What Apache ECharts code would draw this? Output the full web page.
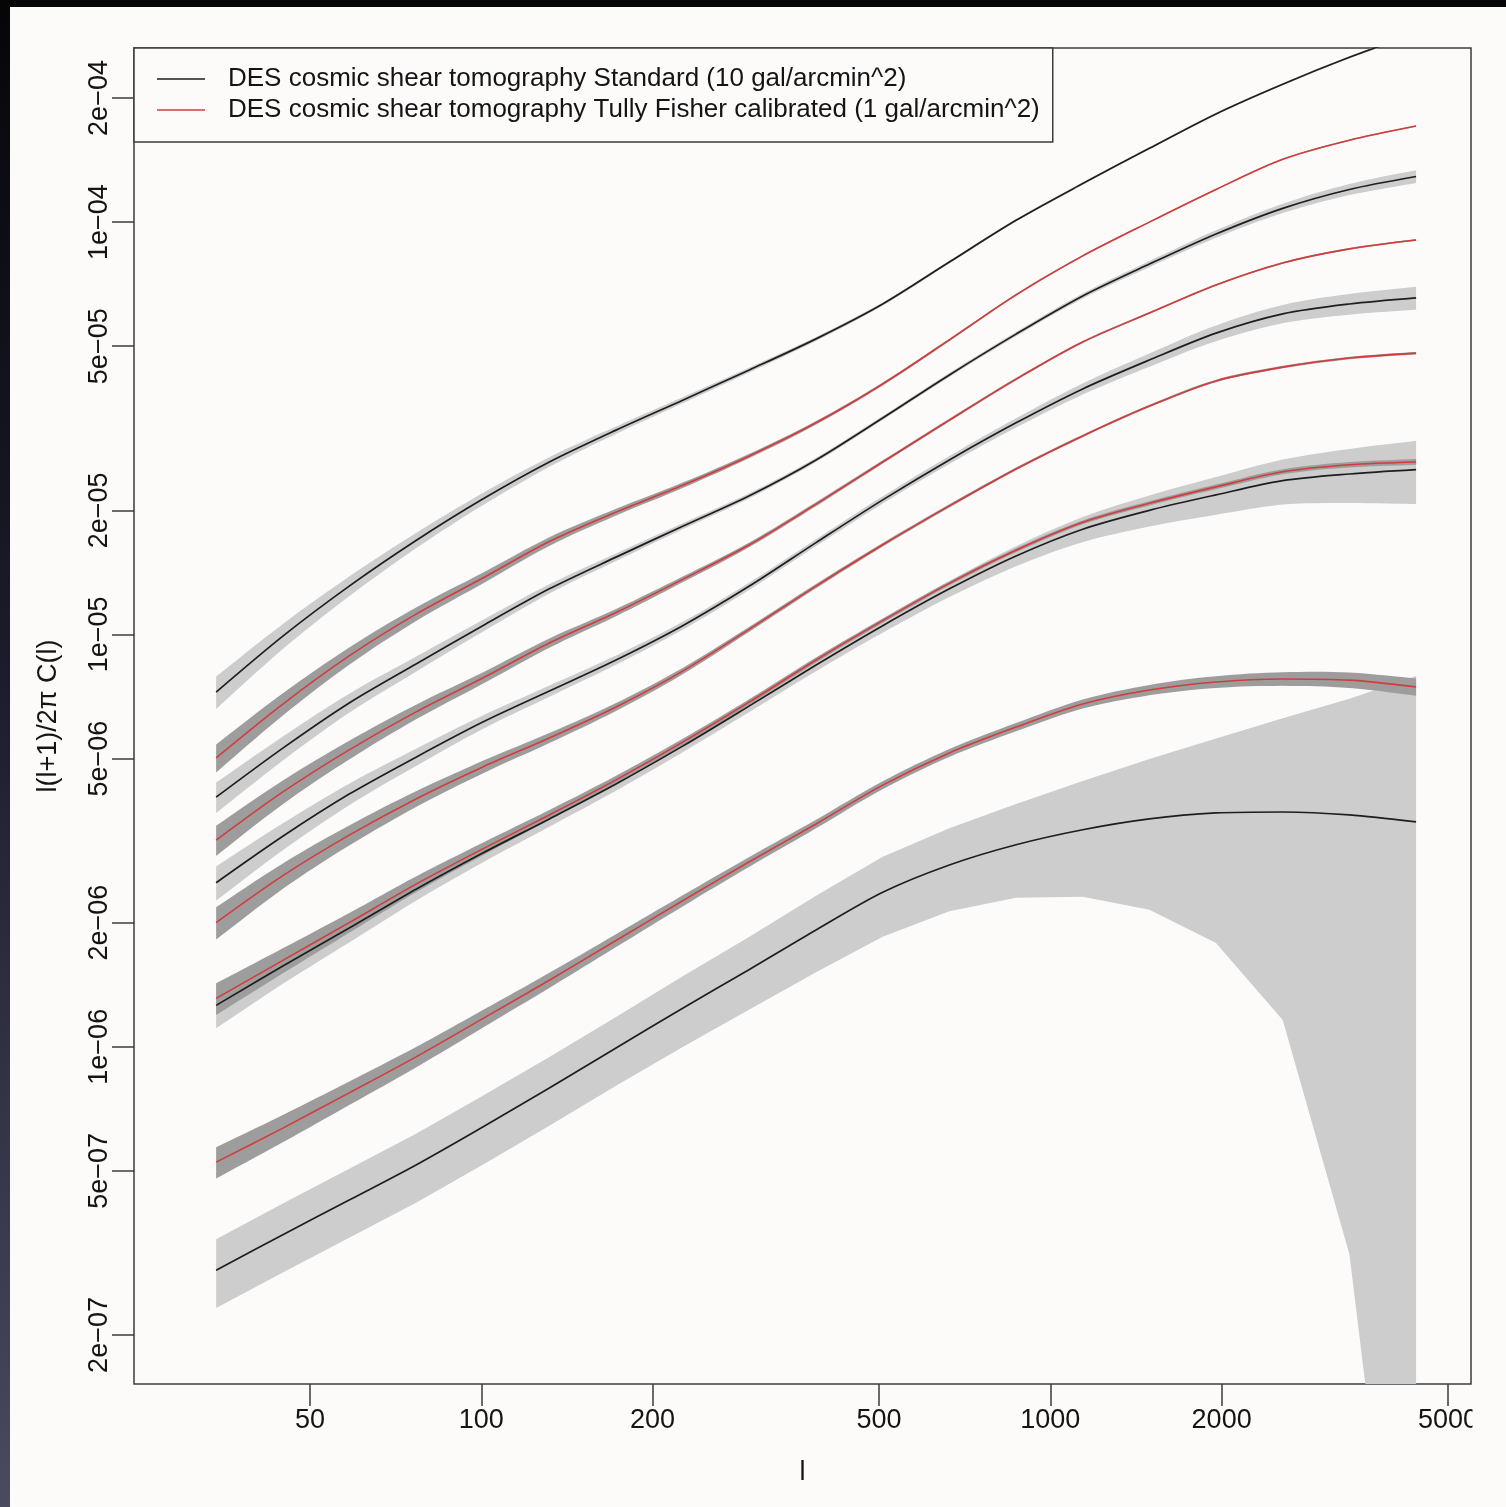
<!DOCTYPE html>
<html>
<head>
<meta charset="utf-8">
<title>DES cosmic shear tomography</title>
<script src="https://cdn.jsdelivr.net/npm/echarts@6/dist/echarts.min.js"></script>
<style>
  html, body { margin: 0; padding: 0; background: #fdfbfa; }
  #chart { width: 1506px; height: 1507px; }
</style>
</head>
<body>
<div id="chart"></div>
<script>
// Multipole bins (log-spaced)
const ell = [34.2, 44.8, 58.6, 76.8, 100.6, 131.7, 172.5, 225.9, 295.9, 387.5, 507.5, 664.6, 870.4, 1140, 1493, 1955, 2561, 3354, 4393];

// l(l+1)C(l)/2pi, Standard (10 gal/arcmin^2), one array per tomographic bin
const std1 = [7.25e-6, 9.91e-6, 1.31e-5, 1.69e-5, 2.13e-5, 2.62e-5, 3.13e-5, 3.70e-5, 4.38e-5, 5.21e-5, 6.33e-5, 8.00e-5, 1.01e-4, 1.24e-4, 1.51e-4, 1.83e-4, 2.16e-4, 2.51e-4, 2.87e-4];
const std2 = [4.03e-6, 5.30e-6, 6.82e-6, 8.48e-6, 1.05e-5, 1.29e-5, 1.54e-5, 1.83e-5, 2.17e-5, 2.65e-5, 3.35e-5, 4.26e-5, 5.35e-5, 6.62e-5, 7.91e-5, 9.36e-5, 1.08e-4, 1.20e-4, 1.29e-4];
const std3 = [2.50e-6, 3.24e-6, 4.10e-6, 5.04e-6, 6.13e-6, 7.29e-6, 8.67e-6, 1.05e-5, 1.31e-5, 1.67e-5, 2.12e-5, 2.65e-5, 3.26e-5, 3.94e-5, 4.63e-5, 5.38e-5, 5.99e-5, 6.33e-5, 6.55e-5];
const std4 = [1.26e-6, 1.57e-6, 1.94e-6, 2.41e-6, 2.95e-6, 3.57e-6, 4.34e-6, 5.36e-6, 6.71e-6, 8.43e-6, 1.05e-5, 1.29e-5, 1.55e-5, 1.80e-5, 2.00e-5, 2.18e-5, 2.36e-5, 2.45e-5, 2.51e-5];
const std5 = [2.87e-7, 3.50e-7, 4.25e-7, 5.17e-7, 6.39e-7, 7.94e-7, 9.93e-7, 1.24e-6, 1.54e-6, 1.92e-6, 2.37e-6, 2.76e-6, 3.09e-6, 3.36e-6, 3.57e-6, 3.69e-6, 3.71e-6, 3.65e-6, 3.51e-6];

// l(l+1)C(l)/2pi, Tully Fisher calibrated (1 gal/arcmin^2)
const tf1 = [5.02e-6, 6.78e-6, 8.87e-6, 1.12e-5, 1.37e-5, 1.68e-5, 1.98e-5, 2.30e-5, 2.71e-5, 3.26e-5, 4.05e-5, 5.18e-5, 6.66e-5, 8.28e-5, 1.00e-4, 1.20e-4, 1.42e-4, 1.58e-4, 1.71e-4];
const tf2 = [3.17e-6, 4.15e-6, 5.25e-6, 6.49e-6, 7.84e-6, 9.53e-6, 1.13e-5, 1.36e-5, 1.65e-5, 2.07e-5, 2.62e-5, 3.31e-5, 4.16e-5, 5.12e-5, 6.02e-5, 7.04e-5, 7.96e-5, 8.61e-5, 9.05e-5];
const tf3 = [2.00e-6, 2.60e-6, 3.26e-6, 3.99e-6, 4.77e-6, 5.61e-6, 6.67e-6, 8.15e-6, 1.03e-5, 1.31e-5, 1.65e-5, 2.05e-5, 2.52e-5, 3.03e-5, 3.58e-5, 4.12e-5, 4.45e-5, 4.68e-5, 4.81e-5];
const tf4 = [1.31e-6, 1.62e-6, 2.00e-6, 2.48e-6, 3.02e-6, 3.65e-6, 4.44e-6, 5.48e-6, 6.86e-6, 8.67e-6, 1.08e-5, 1.33e-5, 1.60e-5, 1.87e-5, 2.08e-5, 2.28e-5, 2.48e-5, 2.58e-5, 2.62e-5];
const tf5 = [5.25e-7, 6.35e-7, 7.73e-7, 9.45e-7, 1.17e-6, 1.45e-6, 1.81e-6, 2.26e-6, 2.81e-6, 3.47e-6, 4.31e-6, 5.16e-6, 5.96e-6, 6.78e-6, 7.33e-6, 7.67e-6, 7.80e-6, 7.75e-6, 7.46e-6];

// Fractional 1-sigma errors (sigma / C) for each spectrum
const stdErr1 = [0.09, 0.07, 0.055, 0.043, 0.034, 0.027, 0.021, 0.017, 0.014, 0.011, 0.009, 0.008, 0.007, 0.006, 0.006, 0.006, 0.006, 0.006, 0.007];
const stdErr2 = [0.085, 0.067, 0.053, 0.042, 0.033, 0.026, 0.021, 0.017, 0.014, 0.012, 0.011, 0.011, 0.012, 0.014, 0.017, 0.021, 0.026, 0.031, 0.036];
const stdErr3 = [0.095, 0.075, 0.06, 0.048, 0.038, 0.031, 0.026, 0.022, 0.02, 0.019, 0.02, 0.022, 0.026, 0.031, 0.037, 0.044, 0.051, 0.058, 0.064];
const stdErr4 = [0.12, 0.095, 0.077, 0.062, 0.051, 0.043, 0.037, 0.034, 0.033, 0.034, 0.038, 0.045, 0.056, 0.07, 0.087, 0.105, 0.125, 0.15, 0.175];
const stdErr5 = [0.19, 0.19, 0.19, 0.19, 0.19, 0.19, 0.19, 0.195, 0.2, 0.21, 0.22, 0.228, 0.256, 0.312, 0.398, 0.516, 0.687, 0.914, 1.26];
const tfErr1 = [0.078, 0.062, 0.048, 0.038, 0.03, 0.024, 0.019, 0.015, 0.012, 0.01, 0.008, 0.007, 0.006, 0.005, 0.004, 0.004, 0.004, 0.004, 0.004];
const tfErr2 = [0.084, 0.066, 0.052, 0.041, 0.032, 0.026, 0.02, 0.016, 0.013, 0.011, 0.009, 0.008, 0.007, 0.006, 0.005, 0.005, 0.005, 0.005, 0.005];
const tfErr3 = [0.09, 0.071, 0.056, 0.044, 0.035, 0.028, 0.022, 0.018, 0.014, 0.012, 0.01, 0.009, 0.008, 0.007, 0.007, 0.007, 0.007, 0.007, 0.007];
const tfErr4 = [0.088, 0.07, 0.055, 0.044, 0.035, 0.028, 0.023, 0.019, 0.016, 0.014, 0.012, 0.011, 0.011, 0.011, 0.012, 0.013, 0.014, 0.015, 0.016];
const tfErr5 = [0.087, 0.076, 0.066, 0.057, 0.049, 0.042, 0.036, 0.031, 0.027, 0.024, 0.022, 0.022, 0.023, 0.025, 0.029, 0.033, 0.038, 0.043, 0.048];

// Axis ticks
const xTicks = [50, 100, 200, 500, 1000, 2000, 5000];
const yTicks = [2e-7, 5e-7, 1e-6, 2e-6, 5e-6, 1e-5, 2e-5, 5e-5, 1e-4, 2e-4];

// Lower band edges that go negative cannot sit on a log axis; they are held at this floor
const BAND_FLOOR = 1.5e-8;

const STD_NAME = 'DES cosmic shear tomography Standard (10 gal/arcmin^2)';
const TF_NAME = 'DES cosmic shear tomography Tully Fisher calibrated (1 gal/arcmin^2)';

const BG = '#fdfbfa';
const FONT = "'Liberation Sans', Arial, Helvetica, sans-serif";
const INK = '#141414';
const BLACK_LINE = '#1e1e1e';
const RED_LINE = '#d23c3c';
const LIGHT_BAND = '#cdcdcd';
const DARK_BAND = '#9d9d9d';
const CURVE_SMOOTH = 0.3;

// Catmull-Rom pass through projected pixel points so band edges curve like the lines
function splineEdge(pts, steps) {
  const n = pts.length, out = [];
  for (let i = 0; i < n - 1; i++) {
    const p0 = pts[Math.max(i - 1, 0)], p1 = pts[i], p2 = pts[i + 1], p3 = pts[Math.min(i + 2, n - 1)];
    for (let s = 0; s < steps; s++) {
      const t = s / steps, t2 = t * t, t3 = t2 * t;
      const q = [0, 1].map(d => 0.5 * (2 * p1[d] + (-p0[d] + p2[d]) * t +
        (2 * p0[d] - 5 * p1[d] + 4 * p2[d] - p3[d]) * t2 +
        (-p0[d] + 3 * p1[d] - 3 * p2[d] + p3[d]) * t3));
      out.push(q);
    }
  }
  out.push(pts[n - 1]);
  return out;
}

// Filled +-1 sigma band drawn as one polygon through the axis scales
function bandSeries(name, values, err, fill, curved) {
  const lower = values.map((v, i) => Math.max(v * (1 - err[i]), BAND_FLOOR));
  const upper = values.map((v, i) => v * (1 + err[i]));
  return {
    type: 'custom',
    name: name,
    silent: true,
    clip: true,
    data: ell.map((l, i) => [l, lower[i], upper[i]]),
    encode: { x: 0, y: [1, 2] },
    renderItem: function (params, api) {
      if (params.dataIndex !== 0) return null;
      let up = ell.map((l, i) => api.coord([l, upper[i]]));
      let lo = ell.map((l, i) => api.coord([l, lower[i]]));
      if (curved) { up = splineEdge(up, 8); lo = splineEdge(lo, 8); }
      const pts = up.concat(lo.slice().reverse());
      const cs = params.coordSys;
      return {
        type: 'polygon',
        shape: { points: pts },
        style: { fill: fill, stroke: null },
        clipPath: { type: 'rect', shape: { x: cs.x, y: cs.y, width: cs.width, height: cs.height } }
      };
    }
  };
}

function lineSeries(name, values, color, width) {
  return {
    type: 'line',
    name: name,
    data: ell.map((l, i) => [l, values[i]]),
    symbol: 'none',
    showSymbol: false,
    smooth: CURVE_SMOOTH,
    clip: true,
    silent: true,
    lineStyle: { color: color, width: width },
    itemStyle: { color: color }
  };
}

function sciLabel(v) {
  let e = Math.floor(Math.log10(v) + 1e-9);
  let m = Math.round(v / Math.pow(10, e));
  if (m >= 10) { m = 1; e += 1; }
  const a = Math.abs(e);
  return m + 'e' + (e < 0 ? '\u2212' : '+') + (a < 10 ? '0' + a : '' + a);
}

const stdValues = [std1, std2, std3, std4, std5];
const stdErrs = [stdErr1, stdErr2, stdErr3, stdErr4, stdErr5];
const tfValues = [tf1, tf2, tf3, tf4, tf5];
const tfErrs = [tfErr1, tfErr2, tfErr3, tfErr4, tfErr5];

const series = [];
// the lowest bin's band runs off the axis, so its edges stay straight between bins
stdValues.forEach((v, k) => series.push(bandSeries('Standard band ' + (k + 1), v, stdErrs[k], LIGHT_BAND, k !== 4)));
tfValues.forEach((v, k) => series.push(bandSeries('Tully Fisher band ' + (k + 1), v, tfErrs[k], DARK_BAND, true)));
stdValues.forEach(v => series.push(lineSeries(STD_NAME, v, BLACK_LINE, 1.7)));
tfValues.forEach(v => series.push(lineSeries(TF_NAME, v, RED_LINE, 1.6)));

const chart = echarts.init(document.getElementById('chart'), null, { renderer: 'canvas' });
chart.setOption({
  animation: false,
  backgroundColor: BG,
  grid: {
    left: 134, top: 48, right: 35, bottom: 123,
    show: true, borderColor: '#3c3c3c', borderWidth: 1.5,
    backgroundColor: 'transparent',
    containLabel: false,
    outerBoundsMode: 'none'
  },
  xAxis: {
    type: 'log', logBase: 10, min: 24.53, max: 5486,
    name: 'l', nameLocation: 'middle', nameGap: 75,
    nameTextStyle: { fontSize: 27, color: INK, fontFamily: FONT },
    axisLine: { show: false },
    axisTick: { show: true, inside: false, length: 22, lineStyle: { color: '#3c3c3c', width: 1.5 }, customValues: xTicks },
    minorTick: { show: false },
    axisLabel: { show: true, customValues: xTicks, formatter: v => String(Math.round(v)), fontSize: 27, color: INK, fontFamily: FONT, margin: 23 },
    splitLine: { show: false }
  },
  yAxis: {
    type: 'log', logBase: 10, min: 1.521e-7, max: 2.644e-4,
    name: 'l(l+1)/2\u03c0 C(l)', nameLocation: 'middle', nameGap: 72, nameRotate: 90,
    nameTextStyle: { fontSize: 27, color: INK, fontFamily: FONT },
    axisLine: { show: false },
    axisTick: { show: true, inside: false, length: 22, lineStyle: { color: '#3c3c3c', width: 1.5 }, customValues: yTicks },
    minorTick: { show: false },
    axisLabel: { show: true, customValues: yTicks, formatter: sciLabel, rotate: 90, fontSize: 27, color: INK, fontFamily: FONT, margin: 21 },
    splitLine: { show: false }
  },
  legend: {
    orient: 'vertical', left: 134, top: 48,
    padding: [18, 13, 19, 23],
    icon: 'rect',
    itemWidth: 48, itemHeight: 1.7, itemGap: 5,
    backgroundColor: BG, borderColor: '#3c3c3c', borderWidth: 1.5, borderRadius: 0,
    selectedMode: false,
    textStyle: { fontSize: 26, color: INK, fontFamily: FONT, lineHeight: 26, padding: [0, 0, 0, 18] },
    data: [STD_NAME, TF_NAME]
  },
  graphic: [
    // the right-hand edge of the page trims the last tick label
    { type: 'rect', z: 100, silent: true, shape: { x: 1472.5, y: 1386, width: 40, height: 70 }, style: { fill: BG } },
    // dark page edges
    { type: 'rect', z: 100, silent: true, shape: { x: 0, y: 0, width: 1506, height: 7 }, style: { fill: '#060609' } },
    { type: 'rect', z: 100, silent: true, shape: { x: 0, y: 0, width: 10, height: 1507 },
      style: { fill: new echarts.graphic.LinearGradient(0, 0, 0, 1, [
        { offset: 0, color: '#060609' },
        { offset: 0.45, color: '#1c1c2c' },
        { offset: 1, color: '#4a4a60' }
      ]) } }
  ],
  series: series
});
</script>
</body>
</html>
